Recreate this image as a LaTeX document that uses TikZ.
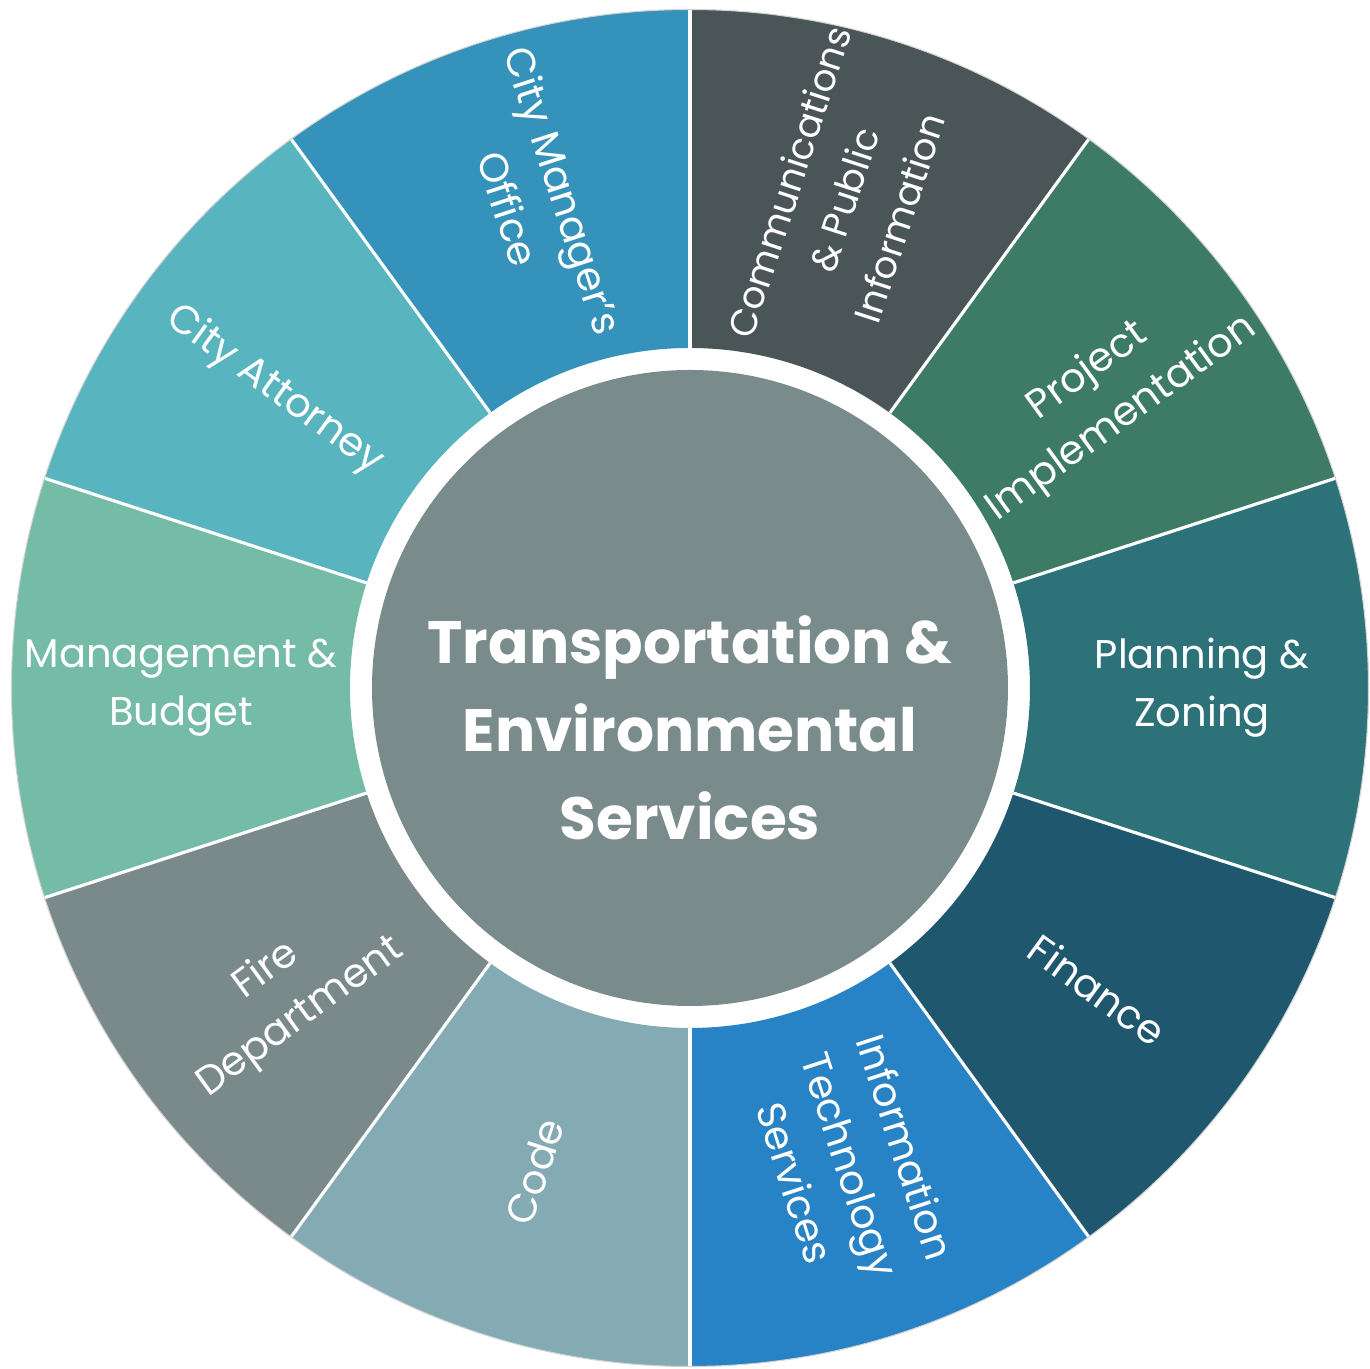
\documentclass[tikz,border=0pt]{standalone}
\usepackage{fontspec}
\setmainfont{Poppins}
\definecolor{commGray}{HTML}{4A5557}
\definecolor{projGreen}{HTML}{3D7B67}
\definecolor{planTeal}{HTML}{2E7279}
\definecolor{finBlue}{HTML}{1F586E}
\definecolor{itBlue}{HTML}{2883C6}
\definecolor{codeBlue}{HTML}{84AAB4}
\definecolor{fireGray}{HTML}{7A8A8A}
\definecolor{mgmtGreen}{HTML}{75BCA6}
\definecolor{attyTeal}{HTML}{58B4BE}
\definecolor{mgrBlue}{HTML}{3593BB}
\definecolor{hubGray}{HTML}{7A8B8C}

\begin{document}
\begin{tikzpicture}
[sepDecorate/.style={draw=white,line width=0.9pt},%
  labelDecorate/.style={text=white,align=center},
  hubDecorate/.style={text=white,align=center,font=\fontsize{17}{25}\selectfont\bfseries}]
\useasboundingbox (-6.90,-6.81) rectangle (6.80,6.88);
%%
%%%%%%%%%%%%%%%%%%%%%%%%%%%%%%%%%%%%%%%%%%%%%%%%%%%%%%%%%%%%%%%%%%%%%%%%%%%
%%
%% wheel segments
\foreach \a/\col in {
  72/commGray, 36/projGreen, 0/planTeal, -36/finBlue, -72/itBlue,
  -108/codeBlue, -144/fireGray, 180/mgmtGreen, 144/attyTeal, 108/mgrBlue}
{
  \fill[\col] (\a-18:3.40) arc[start angle=\a-18,end angle=\a+18,radius=3.40]
    -- (\a+18:6.785) arc[start angle=\a+18,end angle=\a-18,radius=6.785] -- cycle;
}
%% separators between segments
\foreach \a in {18,54,...,342}
{
  \draw[sepDecorate] (\a:3.40) -- (\a:6.785);
}
\draw[gray!35,line width=0.3pt] (0,0) circle (6.785);
%%
%%%%%%%%%%%%%%%%%%%%%%%%%%%%%%%%%%%%%%%%%%%%%%%%%%%%%%%%%%%%%%%%%%%%%%%%%%%
%%
%% hub
\fill[hubGray] (0,0) circle (3.18);
\node (hub) at (0,-0.40) [hubDecorate] {Transportation \&\\Environmental\\Services};
%%
%%%%%%%%%%%%%%%%%%%%%%%%%%%%%%%%%%%%%%%%%%%%%%%%%%%%%%%%%%%%%%%%%%%%%%%%%%%
%%
%% department labels
\foreach \nodename/\ang/\rad/\rot/\fs/\txt in {
  comm/72.5/5.12/72/10.6/{Communications\\\& Public\\Information},
  proj/35.2/5.08/36/11.4/{Project\\Implementation},
  plan/0/5.12/0/11.4/{Planning \&\\Zoning},
  fin/-36.5/5.07/-36/11.4/{Finance},
  its/-71.4/5.03/-72/11.4/{Information\\Technology\\Services},
  code/-107.8/5.08/72/11.4/{Code},
  fire/-143/5.09/36/11.4/{Fire\\Department},
  mgmt/180/5.09/0/11.4/{Management \&\\Budget},
  atty/144.4/5.11/-36/11.4/{City Attorney},
  mgr/107.5/5.12/-72/11.4/{City Manager's\\Office}}
{
  \node (\nodename) at (\ang:\rad)
    [labelDecorate,rotate=\rot,font=\fontsize{\fs}{16.5}\selectfont] {\txt};
}
\end{tikzpicture}
\end{document}
